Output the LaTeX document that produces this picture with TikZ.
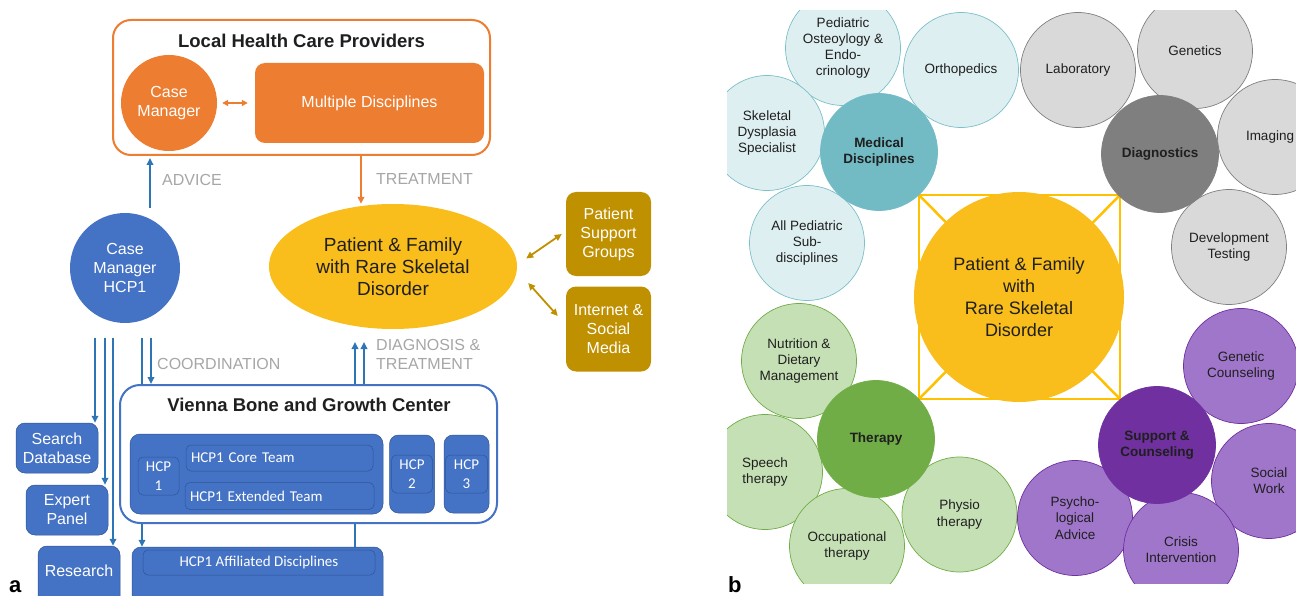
\documentclass[tikz,border=0pt]{standalone}
\usepackage{fontspec}
\setmainfont{Liberation Sans}
\newfontfamily\carl{Carlito}
\usepackage{xcolor}
\usepackage{tikz}
\usetikzlibrary{arrows.meta, positioning, calc, shapes.geometric}

\definecolor{lhorange}{HTML}{ED7D31}
\definecolor{vbblue}{HTML}{4472C4}
\definecolor{vbdark}{HTML}{2F5597}
\definecolor{arblue}{HTML}{2E75B6}
\definecolor{lblgray}{HTML}{A6A6A6}
\definecolor{ptyellow}{HTML}{F9BE1B}
\definecolor{sqyellow}{HTML}{FFC000}
\definecolor{supgold}{HTML}{BF9000}
\definecolor{txt}{HTML}{1F1F1F}
\definecolor{medlite}{HTML}{DEEFF1}
\definecolor{medline}{HTML}{7CC0C9}
\definecolor{medfill}{HTML}{72BBC5}
\definecolor{dialite}{HTML}{D9D9D9}
\definecolor{dialine}{HTML}{808080}
\definecolor{diafill}{HTML}{7F7F7F}
\definecolor{thelite}{HTML}{C5E0B4}
\definecolor{theline}{HTML}{70AD47}
\definecolor{thefill}{HTML}{70AD47}
\definecolor{suplite}{HTML}{A076CA}
\definecolor{supline}{HTML}{7030A0}
\definecolor{supfill}{HTML}{7030A0}

\newcommand{\fsz}[2]{\fontsize{#1}{#2}\selectfont}

\begin{document}
\begin{tikzpicture}[
    x=1pt, y=-1pt,
    font=\fsz{16}{19},
    grp/.style={rectangle, rounded corners=18pt, line width=2pt, fill=white, inner sep=0pt},
    ttl/.style={font=\bfseries\fsz{18.5}{22}, text=txt, inner sep=0pt},
    box/.style={rectangle, rounded corners=9pt, fill=vbblue, draw=vbdark, line width=0.5pt,
      text=white, align=center, inner sep=0pt},
    sub/.style={box, rounded corners=5pt, font=\carl\fsz{15}{19}},
    row/.style={sub, align=left, text width=#1, inner xsep=5pt},
    orb/.style={circle, inner sep=0pt, align=center, text=white},
    tag/.style={text=lblgray, align=left, anchor=west, inner sep=0pt},
    blink/.style={-{Triangle[length=7pt,width=6.5pt]}, line width=1.8pt, draw=arblue},
    bline/.style={line width=1.8pt, draw=arblue},
    olink/.style={-{Triangle[length=7pt,width=6.5pt]}, line width=1.8pt, draw=lhorange},
    glink/.style={{Triangle[length=7pt,width=6.5pt]}-{Triangle[length=7pt,width=6.5pt]},
      line width=1.8pt, draw=supgold},
    bub/.style={circle, minimum size=115pt, inner sep=0pt, align=center, line width=0.7pt,
      text=txt, font=\fsz{13.5}{16.3}},
    hub/.style={bub, minimum size=117pt, font=\bfseries\fsz{13.5}{16.3}},
    medsub/.style={bub, fill=medlite, draw=medline},
    medhub/.style={hub, fill=medfill, draw=medfill},
    diasub/.style={bub, fill=dialite, draw=dialine},
    diahub/.style={hub, fill=diafill, draw=diafill},
    thesub/.style={bub, fill=thelite, draw=theline},
    thehub/.style={hub, fill=thefill, draw=thefill},
    supsub/.style={bub, fill=suplite, draw=supline},
    suphub/.style={hub, fill=supfill, draw=supfill},
  ]
  \useasboundingbox (0,0) rectangle (1296,596);

  % panel a: local providers
  \node[grp, draw=lhorange, minimum width=377pt, minimum height=135pt] (lhcp) at (301.5,87.5) {};
  \node[ttl] (lhcpt) at (301.5,41) {Local Health Care Providers};
  \node[orb, fill=lhorange, minimum size=96pt] (cmloc) at (169,103) {Case\\Manager};
  \node[rectangle, rounded corners=10pt, fill=lhorange, minimum width=229pt, minimum height=80pt,
    text=white] (multi) at (369.5,103) {Multiple Disciplines};
  \draw[{Triangle[length=6pt,width=6pt]}-{Triangle[length=6pt,width=6pt]}, line width=1.8pt,
    draw=lhorange, shorten <=5pt, shorten >=7pt] (cmloc) -- (multi);

  % patient and outside support
  \node[ellipse, fill=ptyellow, minimum width=248pt, minimum height=125pt, inner sep=0pt,
    align=center, text=txt, font=\fsz{19}{22}] (patient) at (393,266.5)
    {Patient \& Family\\with Rare Skeletal\\Disorder};
  \node[box, fill=supgold, draw=none, rounded corners=10pt, minimum width=85pt,
    minimum height=84pt] (psg) at (608.5,234) {Patient\\Support\\Groups};
  \node[box, fill=supgold, draw=none, rounded corners=10pt, minimum width=85pt,
    minimum height=85pt, below=10pt of psg] (isn) {Internet \&\\Social\\Media};
  \draw[glink] ([shift={(9pt,8pt)}]patient.east) -- ([xshift=-4pt]psg.west);
  \draw[glink] ([shift={(11pt,-16.5pt)}]patient.east) -- ([shift={(-8pt,13pt)}]isn.west);

  % hospital side boxes
  \node[box, minimum width=82pt, minimum height=50pt] (search) at (57,448) {Search\\Database};
  \node[box, minimum width=82pt, minimum height=50pt] (expert) at (67,510) {Expert\\Panel};
  \node[box, minimum width=82pt, minimum height=60pt, text depth=10pt] (research) at (79,576) {Research};
  \node[box, minimum width=251pt, minimum height=64pt] (affil) at (257.5,579) {};
  \node[sub, minimum width=232pt, minimum height=25pt] (affilin) at (259,562.5) {HCP1 Affiliated Disciplines};

  \node[orb, fill=vbblue, minimum size=110pt] (cmhcp) at (125,268) {Case\\Manager\\HCP1};

  \coordinate (c1) at (95,338);
  \coordinate (c2) at (105,338);
  \coordinate (c3) at (113,338);
  \coordinate (c4) at (142,338);
  \coordinate (c5) at (151,338);
  \draw[blink] (c1) -- (c1 |- search.north);
  \draw[blink] (c2) -- (c2 |- expert.north);
  \draw[blink] (c3) -- (c3 |- research.north);
  \draw[blink] (c4) -- (c4 |- affil.north);

  % vienna center
  \node[grp, draw=vbblue, rounded corners=20pt, minimum width=377pt, minimum height=138pt] (vbgc) at (308.5,454) {};
  \node[ttl] (vbgct) at (309,405) {Vienna Bone and Growth Center};
  \node[box, rounded corners=10pt, minimum width=253pt, minimum height=80pt] (hcp1grp) at (256.5,474) {};
  \node[sub, minimum width=41pt, minimum height=38pt] (hcp1) at (158.5,476) {HCP\\1};
  \node[row=177pt, minimum height=26pt] (core) at (279.5,458) {HCP1 Core Team};
  \node[row=179pt, minimum height=27pt, below=11pt of core] (ext) {HCP1 Extended Team};
  \node[box, minimum width=45pt, minimum height=78pt, right=6pt of hcp1grp] (hcp2grp) {};
  \node[sub, minimum width=41pt, minimum height=38pt] (hcp2) at (hcp2grp) {HCP\\2};
  \node[box, minimum width=45pt, minimum height=78pt, right=9pt of hcp2grp] (hcp3grp) {};
  \node[sub, minimum width=42pt, minimum height=38pt] (hcp3) at (hcp3grp) {HCP\\3};

  \draw[blink] (c5) -- (c5 |- vbgc.north);
  \coordinate (dt1) at (355,342);
  \coordinate (dt2) at (364,342);
  \draw[blink] (vbgc.north -| dt1) -- (dt1);
  \draw[blink] (vbgc.north -| dt2) -- (dt2);
  \draw[bline] (vbgc.south -| dt1) -- (affil.north -| dt1);

  \coordinate (adv) at (150,208);
  \coordinate (trt) at (361,0);
  \draw[blink, shorten >=2pt] (adv) -- (lhcp.south -| adv);
  \draw[olink] (lhcp.south -| trt) -- (patient.north -| trt);

  \node[tag] (advl) at (162,180) {ADVICE};
  \node[tag] (trtl) at (376,179) {TREATMENT};
  \node[tag] (crdl) at (157,364) {COORDINATION};
  \node[tag] (dxl) at (376,354.5) {DIAGNOSIS \&\\TREATMENT};

  \node[anchor=base west, inner sep=0pt, font=\bfseries\fsz{22}{26}] (pa) at (9,592) {a};

  % panel b
  \begin{scope}
    \clip (727,11) rectangle (1296,583);
    \node[draw=sqyellow, line width=2.5pt, minimum width=201pt, minimum height=204pt,
      inner sep=0pt] (sq) at (1019.5,297) {};
    \draw[sqyellow, line width=2.5pt] (sq.north west) -- (sq.south east);
    \draw[sqyellow, line width=2.5pt] (sq.north east) -- (sq.south west);
    \node[circle, fill=ptyellow, minimum size=210pt, inner sep=0pt, align=center, text=txt,
      font=\fsz{18}{22}] (pf) at (1019,297) {Patient \& Family\\with\\Rare Skeletal\\Disorder};

    \node[medsub] (peo) at (843,48) {Pediatric\\Osteoylogy \&\\Endo-\\crinology};
    \node[medsub] (ortho) at (961,70) {Orthopedics};
    \node[medsub] (sds) at (767,133) {Skeletal\\Dysplasia\\Specialist};
    \node[medsub] (aps) at (807,243) {All Pediatric\\Sub-\\disciplines};

    \node[diasub] (lab) at (1078,70) {Laboratory};
    \node[diasub] (gen) at (1195,51) {Genetics};
    \node[diasub] (img) at (1275,137) {Imaging\hspace*{10pt}};
    \node[diasub] (dev) at (1229,247) {Development\\Testing};

    \node[thesub] (nut) at (799,361) {Nutrition \&\\Dietary\\Management};
    \node[thesub] (spe) at (765,472) {Speech\\therapy};
    \node[thesub] (occ) at (847,546) {Occupational\\therapy};
    \node[thesub] (phy) at (959.5,514.5) {Physio\\therapy};

    \node[supsub] (psy) at (1075,518) {Psycho-\\logical\\Advice};
    \node[supsub] (gco) at (1241,366) {Genetic\\Counseling};
    \node[supsub] (soc) at (1269,481) {Social\\Work};
    \node[supsub] (cri) at (1181,550) {Crisis\\Intervention};

    \node[medhub] (med) at (879,152) {Medical\\Disciplines};
    \node[diahub] (diag) at (1160,154) {Diagnostics};
    \node[thehub] (ther) at (876,439) {Therapy};
    \node[suphub] (sup) at (1157,445) {Support \&\\Counseling};
  \end{scope}

  \node[anchor=base west, inner sep=0pt, font=\bfseries\fsz{22}{26}] (pb) at (728,592) {b};
\end{tikzpicture}
\end{document}
